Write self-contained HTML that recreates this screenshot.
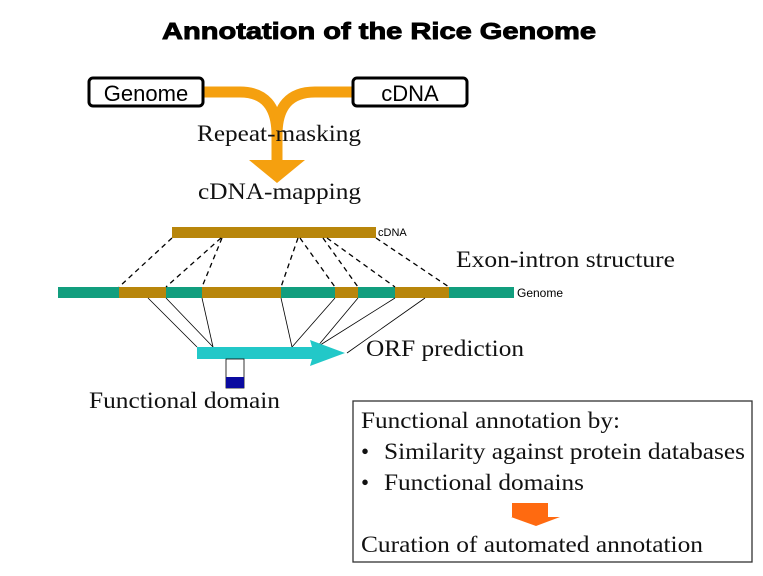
<!DOCTYPE html>
<html><head><meta charset="utf-8"><style>html,body{margin:0;padding:0;background:#fff}svg{display:block}</style></head><body>
<svg width="763" height="576" viewBox="0 0 763 576" xmlns="http://www.w3.org/2000/svg">
<text x="162" y="39" textLength="434" lengthAdjust="spacingAndGlyphs" font-family="Liberation Sans, sans-serif" font-weight="bold" font-size="23" stroke="#000" stroke-width="0.9">Annotation of the Rice Genome</text>
<g fill="none" stroke="#F5A00F" stroke-width="11">
<path d="M203 92 H240 Q277 92 277 135 V165"/>
<path d="M352 92 H315 Q277 92 277 135"/>
</g>
<polygon points="249,160 305,160 277,183" fill="#F5A00F"/>
<rect x="89" y="78" width="114" height="28" rx="4" fill="#fff" stroke="#000" stroke-width="3"/>
<rect x="353" y="78" width="114" height="28" rx="4" fill="#fff" stroke="#000" stroke-width="3"/>
<text x="146" y="101" text-anchor="middle" font-family="Liberation Sans, sans-serif" font-size="22">Genome</text>
<text x="410" y="101" text-anchor="middle" font-family="Liberation Sans, sans-serif" font-size="22">cDNA</text>
<g font-family="Liberation Serif, serif" font-size="23" fill="#111" lengthAdjust="spacingAndGlyphs">
<text x="197" y="141" textLength="164" lengthAdjust="spacingAndGlyphs">Repeat-masking</text>
<text x="198" y="199" textLength="163" lengthAdjust="spacingAndGlyphs">cDNA-mapping</text>
<text x="456" y="267" textLength="219" lengthAdjust="spacingAndGlyphs">Exon-intron structure</text>
<text x="366" y="356" textLength="158" lengthAdjust="spacingAndGlyphs">ORF prediction</text>
<text x="89" y="408" textLength="191" lengthAdjust="spacingAndGlyphs">Functional domain</text>
</g>
<rect x="172" y="227" width="204" height="11" fill="#B8860B"/>
<text x="378" y="236" font-family="Liberation Sans, sans-serif" font-size="11">cDNA</text>
<rect x="58" y="287" width="456" height="11" fill="#129E7E"/>
<g fill="#B8860B">
<rect x="119" y="287" width="47" height="11"/>
<rect x="202" y="287" width="79" height="11"/>
<rect x="335" y="287" width="23" height="11"/>
<rect x="395" y="287" width="54" height="11"/>
</g>
<text x="517" y="297" font-family="Liberation Sans, sans-serif" font-size="12">Genome</text>
<g stroke="#000" stroke-width="1.3" stroke-dasharray="5,4">
<line x1="172" y1="238" x2="119" y2="287"/>
<line x1="221" y1="238" x2="166" y2="287"/>
<line x1="222" y1="238" x2="202" y2="287"/>
<line x1="298" y1="238" x2="281" y2="287"/>
<line x1="300" y1="238" x2="335" y2="287"/>
<line x1="323" y1="238" x2="358" y2="287"/>
<line x1="327" y1="238" x2="395" y2="287"/>
<line x1="376" y1="238" x2="449" y2="287"/>
</g>
<g stroke="#000" stroke-width="0.8">
<line x1="148" y1="298" x2="197" y2="347"/>
<line x1="166" y1="298" x2="213" y2="347"/>
<line x1="202" y1="298" x2="213" y2="347"/>
<line x1="281" y1="298" x2="292" y2="347"/>
<line x1="335" y1="298" x2="292" y2="347"/>
<line x1="358" y1="298" x2="317" y2="347"/>
<line x1="395" y1="298" x2="317" y2="347"/>
<line x1="425" y1="298" x2="347" y2="353"/>
</g>
<polygon points="197,347 312,347 310,340 345,353 310,366 312,359 197,359" fill="#22C8C8"/>
<rect x="226" y="359" width="18" height="29" fill="#fff" stroke="#000" stroke-width="0.8"/>
<rect x="226" y="377" width="18" height="11" fill="#0A0AA0"/>
<rect x="353" y="401" width="399" height="161" fill="#fff" stroke="#333" stroke-width="1.3"/>
<g font-family="Liberation Serif, serif" font-size="23" fill="#111">
<text x="361" y="428" textLength="259" lengthAdjust="spacingAndGlyphs">Functional annotation by:</text>
<text x="361" y="459">•</text><text x="384" y="459" textLength="361" lengthAdjust="spacingAndGlyphs">Similarity against protein databases</text>
<text x="361" y="490">•</text><text x="384" y="490" textLength="200" lengthAdjust="spacingAndGlyphs">Functional domains</text>
<text x="361" y="552" textLength="342" lengthAdjust="spacingAndGlyphs">Curation of automated annotation</text>
</g>
<rect x="512" y="503" width="36" height="14" fill="#FF6A10"/>
<polygon points="511,517 560,517 536,526" fill="#FF6A10"/>
</svg>
</body></html>
